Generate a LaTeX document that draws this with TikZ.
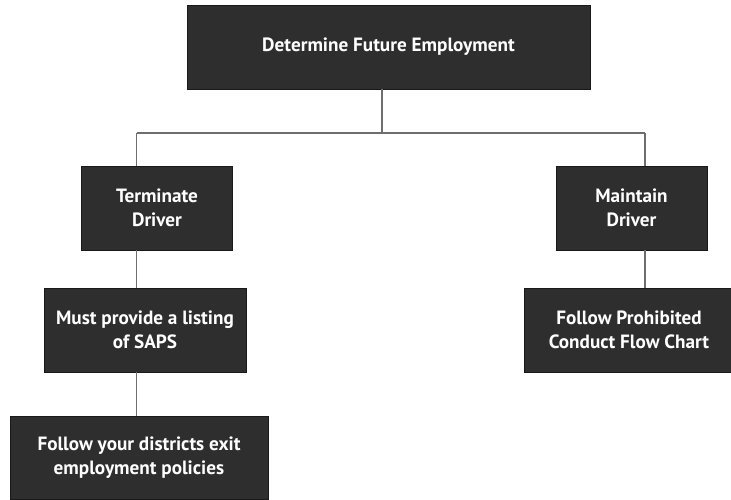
\documentclass[tikz,border=0pt]{standalone}
\usepackage{fontspec}
\setmainfont{PT Sans}
\usetikzlibrary{positioning}
\definecolor{boxgray}{HTML}{2E2E2E}
\definecolor{linegray}{HTML}{6E6E6E}
\tikzstyle{stepbox} = [draw=black!90, line width=0.8pt, rectangle, fill=boxgray, text=white, font=\fontsize{19.2}{24}\selectfont\bfseries, align=center, inner sep=0pt, minimum height=84pt]
\tikzstyle{link} = [draw=linegray, line width=1.1pt]

\begin{document}
\begin{tikzpicture}[x=1pt, y=-1pt]
      \useasboundingbox (0,0) rectangle (731,499);
      \node[stepbox, minimum width=403pt] (top) at (388.5,47) {Determine Future Employment};
      \node[stepbox, minimum width=151pt] (term) at (157,208) {Terminate\\Driver};
      \node[stepbox, minimum width=151pt] (maint) at (631.5,208) {Maintain\\Driver};
      \node[stepbox, minimum width=202pt] (saps) at (145,330) {Must provide a listing\\of SAPS};
      \node[stepbox, minimum width=210pt] (conduct) at (629,330) {Follow Prohibited\\Conduct Flow Chart};
      \node[stepbox, minimum width=258pt, minimum height=83pt] (exit) at (139,457.5) {Follow your districts exit\\employment policies};
      % junctions on the bus line
      \coordinate (busM) at (382,133);
      \coordinate (busL) at (136.6,133);
      \coordinate (busR) at (645,133);
      \draw[link] (busM |- top.south) -- (busM);
      \draw[link] (busL) -- (busR);
      \draw[link] (busL) -- (busL |- term.north);
      \draw[link] (busR) -- (busR |- maint.north);
      \draw[link] (busL |- term.south) -- (busL |- saps.north);
      \draw[link] (busL |- saps.south) -- (busL |- exit.north);
      \draw[link] (busR |- maint.south) -- (busR |- conduct.north);
\end{tikzpicture}
\end{document}
